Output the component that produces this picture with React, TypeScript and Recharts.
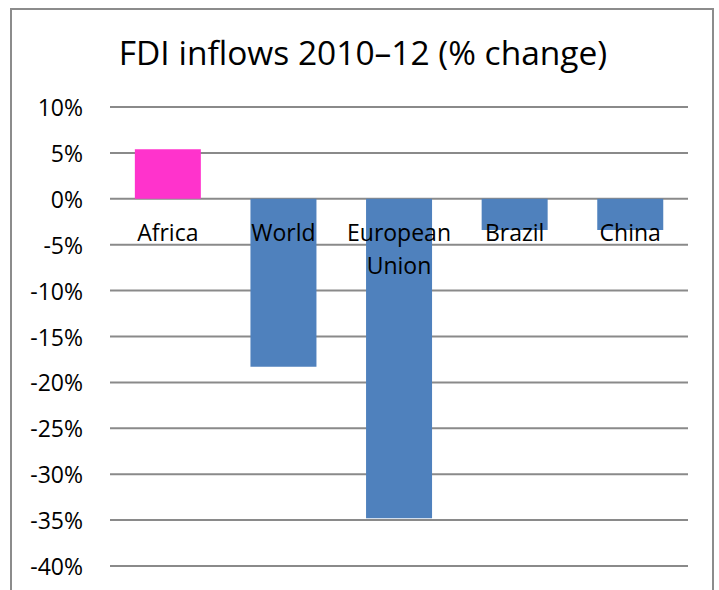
import React from 'react';
import { ComposedChart, Bar, Line, XAxis, YAxis, CartesianGrid, Cell, LabelList } from 'recharts';

const title = 'FDI inflows 2010–12 (% change)';
const categories = ['Africa', 'World', 'European Union', 'Brazil', 'China'];
const changes = [5.4, -18.3, -34.8, -3.4, -3.4];
const barColors = ['#FF33CC', '#4F81BD', '#4F81BD', '#4F81BD', '#4F81BD'];
const yTicks = [10, 5, 0, -5, -10, -15, -20, -25, -30, -35, -40];

const data = categories.map((name, i) => ({ name, change: changes[i] }));

const FONT = '"Open Sans", sans-serif';

const YTick = (props: any) => {
  const { x, y, payload } = props;
  return (
    <text x={x} y={y} textAnchor="end" dominantBaseline="central" fontFamily={FONT} fontSize={23} fill="#000">
      {`${payload.value}%`}
    </text>
  );
};

const CatLabel = (props: any) => {
  const { x, y, value } = props;
  const lines = String(value).split(' ');
  return (
    <text x={x} y={y} textAnchor="middle" fontFamily={FONT} fontSize={23} fill="#000">
      {lines.map((l, i) => (
        <tspan key={i} x={x} dy={i === 0 ? 42 : 33}>
          {l}
        </tspan>
      ))}
    </text>
  );
};

export default function App() {
  return (
    <div style={{ position: 'absolute', left: 0, top: 0, width: 719, height: 590, overflow: 'hidden', background: '#fff' }}>
      <div
        style={{
          position: 'absolute',
          left: 10,
          top: 8,
          width: 704,
          height: 640,
          border: '2px solid #8c8c8c',
          boxSizing: 'border-box',
        }}
      />
      <svg width={719} height={590} style={{ position: 'absolute', left: 0, top: 0 }}>
        <text x={363} y={65} textAnchor="middle" fontFamily={FONT} fontSize={33.5} fill="#000">
          {title}
        </text>
      </svg>
      <div style={{ position: 'absolute', left: 0, top: 0 }}>
        <ComposedChart
          width={719}
          height={590}
          data={data}
          margin={{ top: 107, right: 31, bottom: 24, left: 10 }}
          barCategoryGap="21.5%"
        >
          <CartesianGrid vertical={false} stroke="#8a8a8a" strokeWidth={2} />
          <XAxis dataKey="name" hide />
          <YAxis
            width={100}
            domain={[-40, 10]}
            ticks={yTicks}
            interval={0}
            axisLine={false}
            tickLine={false}
            tickMargin={21}
            tick={<YTick />}
          />
          <Bar dataKey="change" isAnimationActive={false}>
            {data.map((d, i) => (
              <Cell key={d.name} fill={barColors[i]} />
            ))}
          </Bar>
          <Line
            dataKey={() => 0}
            stroke="none"
            dot={false}
            activeDot={false}
            isAnimationActive={false}
          >
            <LabelList dataKey="name" content={<CatLabel />} />
          </Line>
        </ComposedChart>
      </div>
    </div>
  );
}
